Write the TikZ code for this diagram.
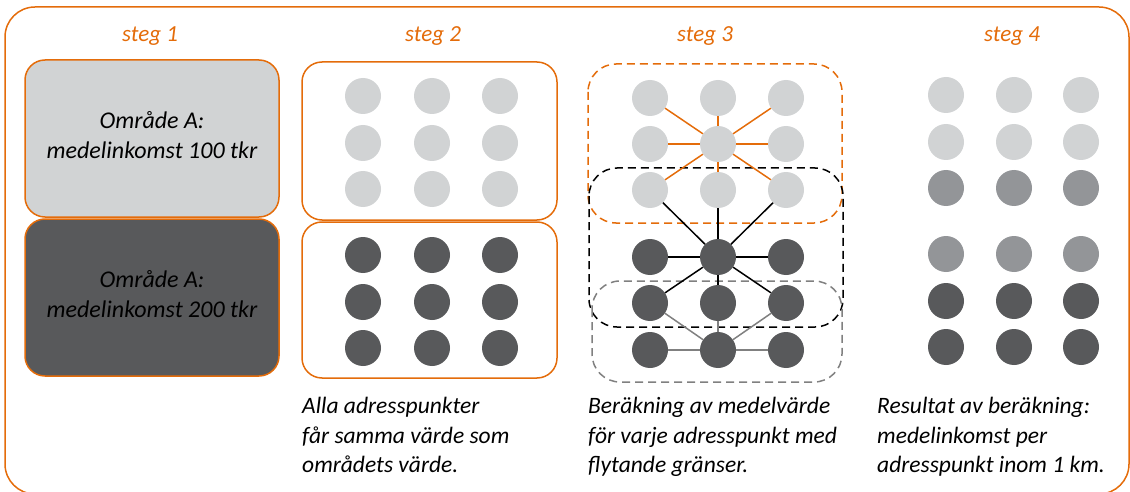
\documentclass[tikz,border=0pt]{standalone}
\usepackage{fontspec}
\setmainfont{Carlito}
\definecolor{stegorange}{HTML}{E46C0A}
\definecolor{ljusgra}{HTML}{D1D3D4}
\definecolor{mellangra}{HTML}{939598}
\definecolor{morkgra}{HTML}{58595B}
\definecolor{linjegra}{HTML}{808080}

\begin{document}
\begin{tikzpicture}[%
      x=1pt, y=-1pt,
      steg/.style={font=\fontsize{23}{27}\selectfont\itshape, text=stegorange},
      omr/.style={draw=stegorange, line width=1.5pt, rounded corners=20pt,
        minimum width=254pt, minimum height=157pt},
      omrtext/.style={align=center, yshift=3pt, font=\fontsize{24}{30}\selectfont\itshape},
      ruta/.style={draw=stegorange, line width=1.5pt, rounded corners=20pt},
      streck/.style={line width=1.5pt, dash pattern=on 8pt off 5pt, rounded corners=28pt},
      prick/.style={circle, minimum size=36pt, inner sep=0pt},
      linje/.style={line width=1.5pt},
      notis/.style={anchor=north west, align=left, inner sep=0pt,
        font=\fontsize{23.5}{29.5}\selectfont\itshape},
      ]
      \useasboundingbox (0,0) rectangle (1130,492);
      \clip (0,0) rectangle (1130,492);
      \draw [stegorange, line width=1.5pt, rounded corners=30pt] (5,7) rectangle (1129,494);

      % rubriker
      \node [steg] (steg1) at (150,36) {steg 1};
      \node [steg] (steg2) at (433,36) {steg 2};
      \node [steg] (steg3) at (705,36) {steg 3};
      \node [steg] (steg4) at (1012,36) {steg 4};

      % steg 1
      \node [omr, fill=ljusgra] (omrA1) at (152,138.5) {};
      \node [omr, fill=morkgra] (omrA2) at (152,297.5) {};
      \node [omrtext] (txtA1) at (omrA1) {Område A:\\medelinkomst 100 tkr};
      \node [omrtext] (txtA2) at (omrA2) {Område A:\\medelinkomst 200 tkr};

      % steg 2
      \draw [ruta] (302,62) rectangle (557,220);
      \draw [ruta] (302,222) rectangle (557,378);
      \foreach \r/\y/\c in {1/96/ljusgra,2/143/ljusgra,3/189/ljusgra,4/255/morkgra,5/302/morkgra,6/348/morkgra}
        \foreach \k/\x in {1/363,2/432,3/500}
          \node [prick, fill=\c] (s2-\r-\k) at (\x,\y) {};

      % steg 3
      \draw [streck, stegorange] (588,64) rectangle (842,223);
      \draw [streck, black] (589,168) rectangle (843,327);
      \draw [streck, linjegra] (592,281) rectangle (842,382);
      \foreach \r/\y/\c in {1/98/ljusgra,2/144/ljusgra,3/190/ljusgra,4/257/morkgra,5/303/morkgra,6/350/morkgra}
        \foreach \k/\x in {1/650,2/718,3/786}
          \node [prick, fill=\c] (s3-\r-\k) at (\x,\y) {};
      \foreach \m in {1-1,1-2,1-3,2-1,2-3,3-1,3-2,3-3}
        \draw [linje, stegorange] (s3-2-2) -- (s3-\m);
      \foreach \m in {3-1,3-2,3-3,4-1,4-3,5-1,5-2,5-3}
        \draw [linje, black] (s3-4-2) -- (s3-\m);
      \foreach \m in {5-1,5-2,5-3,6-1,6-3}
        \draw [linje, linjegra] (s3-6-2) -- (s3-\m);

      % steg 4
      \foreach \r/\y/\c in {1/95/ljusgra,2/142/ljusgra,3/188/mellangra,4/254/mellangra,5/301/morkgra,6/347/morkgra}
        \foreach \k/\x in {1/946,2/1014,3/1081}
          \node [prick, fill=\c] (s4-\r-\k) at (\x,\y) {};

      % texter
      \node [notis] (notis2) at (302,397) {Alla adresspunkter\\får samma värde som\\områdets värde.};
      \node [notis] (notis3) at (588,397) {Beräkning av medelvärde\\för varje adresspunkt med\\flytande gränser.};
      \node [notis] (notis4) at (877,397) {Resultat av beräkning:\\medelinkomst per\\adresspunkt inom 1 km.};
\end{tikzpicture}
\end{document}
